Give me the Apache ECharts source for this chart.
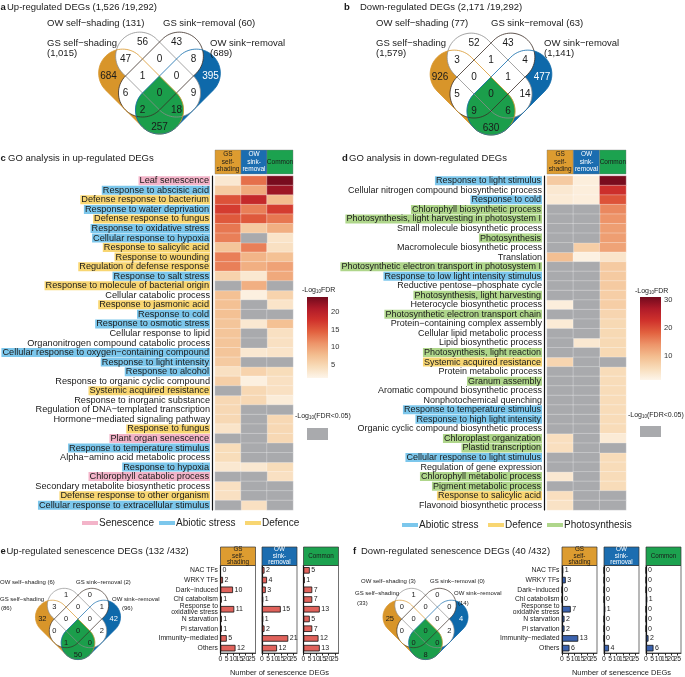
<!DOCTYPE html>
<html><head><meta charset="utf-8">
<script src="https://cdn.jsdelivr.net/npm/echarts/dist/echarts.min.js"></script>
<style>html,body{margin:0;padding:0;background:#fff}#c{width:685px;height:677px}</style>
</head><body><div id="c"></div>
<script>
// ================= DATA =================
// Venn region order: A=GS self-shading, B=OW self-shading, C=GS sink-removal, D=OW sink-removal
const vennRegionKeys = ['A','B','C','D','AB','BC','CD','ABC','BCD','AC','ABCD','BD','ACD','ABD','AD'];
const vennUpCounts   = [684,56,43,395,47,0,8,1,0,6,0,9,2,18,257];
const vennDownCounts = [926,52,43,477,3,1,4,0,1,5,0,14,9,6,630];
const vennSenUpCounts   = [32,1,0,42,3,0,1,0,0,0,0,2,1,0,50];
const vennSenDownCounts = [25,1,0,4,0,0,0,0,0,0,0,2,0,0,8];
const vennUpLabels   = ['OW self−shading (131)','GS sink−removal (60)','GS self−shading','(1,015)','OW sink−removal','(689)'];
const vennDownLabels = ['OW self−shading (77)','GS sink−removal (63)','GS self−shading','(1,579)','OW sink−removal','(1,141)'];
const vennSenUpLabels   = ['OW self−shading (6)','GS sink−removal (2)','GS self−shading','(86)','OW sink−removal','(96)'];
const vennSenDownLabels = ['OW self−shading (3)','GS sink−removal (0)','GS self−shading','(33)','OW sink−removal','(14)'];

const heatCols = ['GS\nself-\nshading','OW\nsink-\nremoval','Common'];

const goUpTerms = ['Leaf senescence','Response to abscisic acid','Defense response to bacterium','Response to water deprivation','Defense response to fungus','Response to oxidative stress','Cellular response to hypoxia','Response to salicylic acid','Response to wounding','Regulation of defense response','Response to salt stress','Response to molecule of bacterial origin','Cellular catabolic process','Response to jasmonic acid','Response to cold','Response to osmotic stress','Cellular response to lipid','Organonitrogen compound catabolic process','Cellular response to oxygen−containing compound','Response to light intensity','Response to alcohol','Response to organic cyclic compound','Systemic acquired resistance','Response to inorganic substance','Regulation of DNA−templated transcription','Hormone−mediated signaling pathway','Response to fungus','Plant organ senescence','Response to temperature stimulus','Alpha−amino acid metabolic process','Response to hypoxia','Chlorophyll catabolic process','Secondary metabolite biosynthetic process','Defense response to other organism','Cellular response to extracellular stimulus'];
const goUpCat = ['sen','abi','def','abi','def','abi','abi','def','def','def','abi','def','n','def','abi','abi','n','n','abi','abi','abi','n','def','n','n','n','def','sen','abi','n','abi','sen','n','def','abi'];
const goUpGS     = [3,6.5,15.5,17,15,13,12.5,7,12.5,12.5,5.5,null,7.5,7.5,7.5,7,7,7,7,6.5,4,6,null,5,5,5,3.5,null,4.5,4.5,3,null,4,4,null];
const goUpOW     = [13.5,9.5,19,12.5,15,6.5,null,12.5,8.5,9,3,9,2,null,null,3,null,null,3,null,5.5,2,5,5,null,null,null,null,null,null,3,null,null,null,4];
const goUpCommon = [24,22,8,17,13,9,3.5,4,7.5,10,9.5,null,5.5,3.5,null,7.5,4,4,3.5,null,4.5,4,4,2.5,null,5,5,5,null,null,4.5,4,null,null,null];

const goDownTerms = ['Response to light stimulus','Cellular nitrogen compound biosynthetic process','Response to cold','Chlorophyll biosynthetic process','Photosynthesis, light harvesting in photosystem I','Small molecule biosynthetic process','Photosynthesis','Macromolecule biosynthetic process','Translation','Photosynthetic electron transport in photosystem I','Response to low light intensity stimulus','Reductive pentose−phosphate cycle','Photosynthesis, light harvesting','Heterocycle biosynthetic process','Photosynthetic electron transport chain','Protein−containing complex assembly','Cellular lipid metabolic process','Lipid biosynthetic process','Photosynthesis, light reaction','Systemic acquired resistance','Protein metabolic process','Granum assembly','Aromatic compound biosynthetic process','Nonphotochemical quenching','Response to temperature stimulus','Response to high light intensity','Organic cyclic compound biosynthetic process','Chloroplast organization','Plastid transcription','Cellular response to light stimulus','Regulation of gene expression','Chlorophyll metabolic process','Pigment metabolic process','Response to salicylic acid','Flavonoid biosynthetic process'];
const goDownCat = ['abi','n','abi','pho','pho','n','pho','n','n','pho','abi','n','pho','n','pho','n','n','n','pho','def','n','pho','n','n','abi','abi','n','pho','pho','abi','n','pho','pho','def','n'];
const goDownGS     = [8,3.5,3,null,null,null,null,null,9.5,null,null,null,null,2.5,null,3,null,null,null,6.5,null,null,null,null,null,null,null,5,5,null,null,3.5,null,5,4.5];
const goDownOW     = [2.5,2.5,2.5,null,null,null,null,7.5,2,null,null,null,null,null,null,null,null,3.5,null,null,null,null,null,null,null,null,null,null,null,null,null,null,null,null,null];
const goDownCommon = [30.5,23,19.5,15,14,13,13,12.5,4,8,8,8,7.5,7.5,6.5,6,6,6,6,null,5.5,5.5,5.5,5.5,5.5,5.5,5.5,3,null,5.5,5.5,5.5,5.5,null,null];

const upScaleRange = [1.3, 24.3];
const downScaleRange = [1.3, 31];
const upScaleTicks = [5,10,15,20];
const downScaleTicks = [10,20,30];

const senCats = ['NAC TFs','WRKY TFs','Dark−induced','Chl catabolism','Response to\noxidative stress','N starvation','Pi starvation','Immunity−mediated','Others'];
const senUpGS     = [0,2,10,1,11,1,1,5,12];
const senUpOW     = [2,4,3,1,15,1,2,21,12];
const senUpCommon = [5,1,7,7,13,5,7,12,13];
const senDownGS     = [1,3,0,0,7,2,2,13,6];
const senDownOW     = [0,0,0,0,1,0,0,0,4];
const senDownCommon = [0,0,0,1,0,0,0,2,6];
const barTicks = {min:0, max:28, interval:5};

// ================= STYLE / LAYOUT =================
const FONT = '"Liberation Sans", Arial, Helvetica, sans-serif';
const COL_GS = '#d8952a', COL_OW = '#0e69aa', COL_CM = '#1b9e4b';
const HDR_GS = '#dd9c30', HDR_OW = '#1b6db0', HDR_CM = '#1ca24f';
const NA_GRAY = '#a9aaad';
const HL = {sen:'#f3b4c9', abi:'#7cc7ec', def:'#f8d672', pho:'#afd68b'};
const SCALE = ['#fdf5ea','#f8dcb9','#f3bd8f','#ed9469','#e2613f','#d0322c','#b01b29','#720a1d'];
const UP_BAR = '#e0625b', DOWN_BAR = '#3b62ad';

const HEAT_C = {left:215, top:176, width:78, height:334};
const HEAT_D = {left:547, top:176, width:79, height:334};
const BAR_TOP = 565.5, BAR_H = 87.5, HDR_TOP = 547;
const BAR_E_LEFT = [220.5, 262, 303.5], BAR_F_LEFT = [562, 604, 646], BAR_W = 35;

// ================= VENN GEOMETRY =================
const REGION_UV = [[-49.5,-49.5],[16.5,-49.5],[49.5,-16.5],[49.5,49.5],[-16.5,-49.5],[16.5,-16.5],[49.5,16.5],[-16.5,-16.5],[16.5,16.5],[-49.5,-16.5],[-16.5,16.5],[16.5,49.5],[-49.5,16.5],[-16.5,49.5],[-49.5,49.5]];
// [uc, vc, halfU, halfV]
const SETS_UV = {A:[-33,-2.75,33,68.75], B:[0,-2.75,33,68.75], C:[2.75,0,68.75,33], D:[2.75,33,68.75,33]};
function roundRectUV(uc,vc,hu,hv,r,n){
  const pts=[];
  const cs=[[uc+hu-r,vc+hv-r,0],[uc-hu+r,vc+hv-r,90],[uc-hu+r,vc-hv+r,180],[uc+hu-r,vc-hv+r,270]];
  for(const [cu,cv,a0] of cs){for(let i=0;i<=n;i++){const a=(a0+90*i/n)*Math.PI/180;pts.push([cu+r*Math.cos(a),cv+r*Math.sin(a)]);}}
  return pts;
}
function toXY(p,cx,cy,k){return [cx+k*(p[0]+p[1])/2, cy+k*(p[1]-p[0])/2];}
function clipConvex(subject, clip){
  let area=0;for(let i=0;i<clip.length;i++){const a=clip[i],b=clip[(i+1)%clip.length];area+=a[0]*b[1]-b[0]*a[1];}
  const s=area>0?1:-1; let out=subject.slice();
  for(let i=0;i<clip.length;i++){
    const a=clip[i],b=clip[(i+1)%clip.length];
    const f=p=>(b[0]-a[0])*(p[1]-a[1])-(b[1]-a[1])*(p[0]-a[0]);
    const inp=out; out=[]; if(!inp.length)break;
    for(let j=0;j<inp.length;j++){
      const P=inp[j],Q=inp[(j+1)%inp.length]; const dp=f(P),dq=f(Q);
      const pin=s*dp>=-1e-9,qin=s*dq>=-1e-9;
      const X=()=>{const t=dp/(dp-dq);return [P[0]+t*(Q[0]-P[0]),P[1]+t*(Q[1]-P[1])];};
      if(pin){out.push(P);if(!qin)out.push(X());}else if(qin){out.push(X());}
    }
  }
  return out;
}
function txt(x,y,text,fs,opts){
  opts=opts||{};
  return {type:'text',x:x,y:y,silent:true,z:opts.z||10,style:Object.assign({text:text,fontSize:fs,fontFamily:FONT,fill:opts.fill||'#1a1a1a',align:opts.align||'left',verticalAlign:'middle',fontWeight:opts.bold?'bold':'normal'},opts.style||{})};
}
function venn(counts,labels,labelPos,cx,cy,k,numFs,labFs,sw){
  const P={};
  for(const key in SETS_UV){const s=SETS_UV[key];P[key]=roundRectUV(s[0],s[1],s[2],s[3],33,18).map(p=>toXY(p,cx,cy,k));}
  const AD=clipConvex(P.A,P.D);
  const poly=(pts,fill,stroke,lw)=>({type:'polygon',silent:true,z:5,shape:{points:pts},style:{fill:fill||'none',stroke:stroke||null,lineWidth:lw||0}});
  const els=[poly(P.A,COL_GS),poly(P.D,COL_OW),poly(P.B,'#fff'),poly(P.C,'#fff'),poly(AD,COL_CM,COL_CM,0.3),
    poly(P.B,null,'#8d8d8d',sw),poly(P.C,null,'#3a2c24',sw),poly(P.A,null,COL_GS,sw),poly(P.D,null,COL_OW,sw)];
  counts.forEach((c,i)=>{const xy=toXY(REGION_UV[i],cx,cy,k);els.push(txt(xy[0],xy[1],String(c),numFs,{align:'center',fill:vennRegionKeys[i]==='D'?'#fff':'#1a1a1a'}));});
  labels.forEach((l,i)=>{els.push(txt(cx+labelPos[i][0],cy+labelPos[i][1],l,labFs));});
  return els;
}

// ================= BUILD =================
const grids=[],xAxes=[],yAxes=[],series=[],graphic=[];
function addGrid(g){grids.push(Object.assign({outerBoundsMode:'none',containLabel:false},g));return grids.length-1;}
function heatPanel(h, terms, cats, gs, ow, cm, fs, tickLen){
  const gi=addGrid(h);
  xAxes.push({type:'category',gridIndex:gi,data:heatCols,show:false});
  const yi=yAxes.length;
  const rs=(bg)=>Object.assign({fontSize:fs,fontFamily:FONT,color:'#1a1a1a'},bg?{backgroundColor:bg,padding:[0,1,0,1],lineHeight:8}:{});
  yAxes.push({type:'category',gridIndex:gi,data:terms,inverse:true,offset:3,
    axisLine:{lineStyle:{color:'#111',width:1.2}},
    axisTick:{alignWithLabel:true,interval:0,length:tickLen,lineStyle:{color:'#111',width:1}},
    axisLabel:{interval:0,margin:2,fontSize:fs,color:'#1a1a1a',fontFamily:FONT,
      formatter:(v,i)=>'{'+cats[i]+'|'+v+'}',
      rich:{n:rs(null),sen:rs(HL.sen),abi:rs(HL.abi),def:rs(HL.def),pho:rs(HL.pho)}},
    splitLine:{show:false}});
  const vals=[],nas=[];
  [gs,ow,cm].forEach((arr,c)=>arr.forEach((v,r)=>{if(v==null)nas.push([c,r,0]);else vals.push([c,r,v]);}));
  const si=series.length;
  series.push({type:'heatmap',xAxisIndex:gi,yAxisIndex:yi,data:vals,itemStyle:{borderColor:'rgba(255,255,255,0.55)',borderWidth:0.6},emphasis:{disabled:true}});
  series.push({type:'heatmap',xAxisIndex:gi,yAxisIndex:yi,data:nas,itemStyle:{color:NA_GRAY,borderColor:'rgba(255,255,255,0.45)',borderWidth:0.6},emphasis:{disabled:true}});
  const cw=h.width/3, fills=[HDR_GS,HDR_OW,HDR_CM], tc=['#1a1a1a','#fff','#1a1a1a'];
  heatCols.forEach((t,c)=>{
    graphic.push({type:'rect',silent:true,z:5,shape:{x:h.left+c*cw,y:150,width:cw,height:24},style:{fill:fills[c],stroke:'#7a7a7a',lineWidth:0.4}});
    graphic.push(txt(h.left+c*cw+cw/2,162,t,6.5,{align:'center',fill:tc[c],style:{lineHeight:7.3}}));
  });
  return si;
}
const sUp=heatPanel(HEAT_C,goUpTerms,goUpCat,goUpGS,goUpOW,goUpCommon,9.2,4);
const sDown=heatPanel(HEAT_D,goDownTerms,goDownCat,goDownGS,goDownOW,goDownCommon,9,3);

function colorBar(left,top,h,range,ticks){
  const gi=addGrid({left:left,top:top,width:21,height:h});
  xAxes.push({type:'value',gridIndex:gi,min:0,max:1,show:false});
  const yi=yAxes.length;
  yAxes.push({type:'value',gridIndex:gi,min:range[0],max:range[1],position:'right',
    axisLine:{show:false},splitLine:{show:false},
    axisTick:{show:true,inside:true,length:4,lineStyle:{color:'#fff',width:1},customValues:ticks},
    axisLabel:{customValues:ticks,fontSize:7.5,color:'#333',margin:3,fontFamily:FONT}});
  yAxes.push({type:'value',gridIndex:gi,min:range[0],max:range[1],position:'left',
    axisLine:{show:false},splitLine:{show:false},axisLabel:{show:false},
    axisTick:{show:true,inside:true,length:4,lineStyle:{color:'#fff',width:1},customValues:ticks}});
  const stops=SCALE.map((c,i)=>({offset:i/(SCALE.length-1),color:c}));
  series.push({type:'custom',xAxisIndex:gi,yAxisIndex:yi,data:[[0,range[0]]],z:1,
    renderItem:(p,api)=>{const a=api.coord([0,range[1]]),b=api.coord([1,range[0]]);
      return {type:'rect',shape:{x:a[0],y:a[1],width:b[0]-a[0],height:b[1]-a[1]},style:{fill:new echarts.graphic.LinearGradient(0,1,0,0,stops)}};}});
}
colorBar(307,297,81,upScaleRange,upScaleTicks);
colorBar(640,297,83,downScaleRange,downScaleTicks);

function barPanel(left,vals,color,showCats,axisName,hdrFill,hdrText,hdrColor){
  const gi=addGrid({left:left,top:BAR_TOP,width:BAR_W,height:BAR_H,show:true,borderColor:'#333',borderWidth:0.7});
  xAxes.push({type:'value',gridIndex:gi,min:barTicks.min,max:barTicks.max,interval:barTicks.interval,
    axisLine:{show:true,lineStyle:{color:'#222',width:0.8}},axisTick:{show:true,length:2.5,lineStyle:{color:'#222'}},
    axisLabel:{fontSize:6.8,color:'#222',margin:2.5,fontFamily:FONT,showMaxLabel:false},splitLine:{show:false},
    name:axisName||'',nameLocation:'middle',nameGap:16,nameTextStyle:{fontSize:7.5,color:'#222',fontFamily:FONT}});
  const yi=yAxes.length;
  yAxes.push({type:'category',gridIndex:gi,data:senCats,inverse:true,
    axisLine:{lineStyle:{color:'#111',width:1.2}},axisTick:{alignWithLabel:true,interval:0,length:2.5,lineStyle:{color:'#111'}},
    axisLabel:{show:showCats,interval:0,fontSize:6.8,color:'#222',margin:2.5,lineHeight:6,fontFamily:FONT}});
  series.push({type:'bar',xAxisIndex:gi,yAxisIndex:yi,data:vals,barWidth:6.5,
    itemStyle:{color:color,borderColor:'#111',borderWidth:0.8},
    label:{show:true,position:'right',distance:1.5,fontSize:7,color:'#222',fontFamily:FONT},emphasis:{disabled:true}});
  graphic.push({type:'rect',silent:true,z:5,shape:{x:left,y:HDR_TOP,width:BAR_W,height:BAR_TOP-HDR_TOP},style:{fill:hdrFill,stroke:'#333',lineWidth:0.7}});
  graphic.push(txt(left+BAR_W/2,(HDR_TOP+BAR_TOP)/2,hdrText,6.3,{align:'center',fill:hdrColor,style:{lineHeight:6.5}}));
}
barPanel(BAR_E_LEFT[0],senUpGS,UP_BAR,true,'',HDR_GS,heatCols[0],'#1a1a1a');
barPanel(BAR_E_LEFT[1],senUpOW,UP_BAR,false,'Number of senescence DEGs',HDR_OW,heatCols[1],'#fff');
barPanel(BAR_E_LEFT[2],senUpCommon,UP_BAR,false,'',HDR_CM,heatCols[2],'#1a1a1a');
barPanel(BAR_F_LEFT[0],senDownGS,DOWN_BAR,true,'',HDR_GS,heatCols[0],'#1a1a1a');
barPanel(BAR_F_LEFT[1],senDownOW,DOWN_BAR,false,'Number of senescence DEGs',HDR_OW,heatCols[1],'#fff');
barPanel(BAR_F_LEFT[2],senDownCommon,DOWN_BAR,false,'',HDR_CM,heatCols[2],'#1a1a1a');

// ---- Venns ----
graphic.push(...venn(vennUpCounts,vennUpLabels,[[-112.5,-53],[3.5,-53],[-112.5,-33],[-112.5,-23],[50.5,-33],[50.5,-23]],159.5,76,1.03,10,9.5,0.8));
graphic.push(...venn(vennDownCounts,vennDownLabels,[[-115,-54],[0,-54],[-115,-34],[-115,-24],[53,-34],[53,-24]],491,77,1.03,10,9.5,0.8));
graphic.push(...venn(vennSenUpCounts,vennSenUpLabels,[[-78,-37],[-2,-37],[-78,-20],[-77,-11],[34,-20],[44,-11]],78,619,0.72,7.5,6,0.7));
graphic.push(...venn(vennSenDownCounts,vennSenDownLabels,[[-64.5,-38],[4.5,-38],[-70.5,-26],[-68.5,-16],[28.5,-26],[32.5,-16]],425.5,619,0.72,7.5,6,0.7));

// ---- Titles ----
graphic.push(txt(0.5,7,'a',9.5,{bold:true}),txt(7,7,'Up-regulated DEGs (1,526 /19,292)',9.5));
graphic.push(txt(344,7,'b',9.5,{bold:true}),txt(360,7,'Down-regulated DEGs (2,171 /19,292)',9.5));
graphic.push(txt(0.5,158,'c',9.5,{bold:true}),txt(8,158,'GO analysis in up-regulated DEGs',9.5));
graphic.push(txt(342,158,'d',9.5,{bold:true}),txt(349,158,'GO analysis in down-regulated DEGs',9.5));
graphic.push(txt(0.5,551,'e',9.5,{bold:true}),txt(6.5,551,'Up-regulated senescence DEGs (132 /432)',9.5));
graphic.push(txt(353,551,'f',9.5,{bold:true}),txt(361,551,'Down-regulated senescence DEGs (40 /432)',9.5));

// ---- Colour legends ----
const logRich={t:{fontSize:7,fontFamily:FONT,fill:'#222'},s:{fontSize:4.5,fontFamily:FONT,fill:'#222',padding:[4,0,0,0]}};
graphic.push(txt(302,290,'{t|-Log}{s|10}{t|FDR}',7,{style:{rich:logRich}}));
graphic.push(txt(635,291,'{t|-Log}{s|10}{t|FDR}',7,{style:{rich:logRich}}));
graphic.push(txt(295,416,'{t|-Log}{s|10}{t|(FDR<0.05)}',7,{style:{rich:logRich}}));
graphic.push(txt(628,415,'{t|-Log}{s|10}{t|(FDR<0.05)}',7,{style:{rich:logRich}}));
graphic.push({type:'rect',silent:true,shape:{x:307,y:428,width:21,height:12},style:{fill:NA_GRAY}});
graphic.push({type:'rect',silent:true,shape:{x:640,y:426,width:21,height:11},style:{fill:NA_GRAY}});

// ---- Category legends ----
function catLegend(items,y){items.forEach(it=>{graphic.push({type:'rect',silent:true,shape:{x:it[2]-17,y:y-2,width:16,height:4},style:{fill:HL[it[0]]}});graphic.push(txt(it[2],y,it[1],10,{fill:'#222'}));});}
catLegend([['sen','Senescence',99],['abi','Abiotic stress',176],['def','Defence',262]],523);
catLegend([['abi','Abiotic stress',419],['def','Defence',505],['pho','Photosynthesis',564]],525);

const option={
  animation:false,
  textStyle:{fontFamily:FONT},
  grid:grids, xAxis:xAxes, yAxis:yAxes,
  visualMap:[
    {type:'continuous',show:false,seriesIndex:sUp,dimension:2,min:upScaleRange[0],max:upScaleRange[1],inRange:{color:SCALE}},
    {type:'continuous',show:false,seriesIndex:sDown,dimension:2,min:downScaleRange[0],max:downScaleRange[1],inRange:{color:SCALE}}
  ],
  series:series,
  graphic:graphic
};
const chart=echarts.init(document.getElementById('c'));
chart.setOption(option);
</script></body></html>
